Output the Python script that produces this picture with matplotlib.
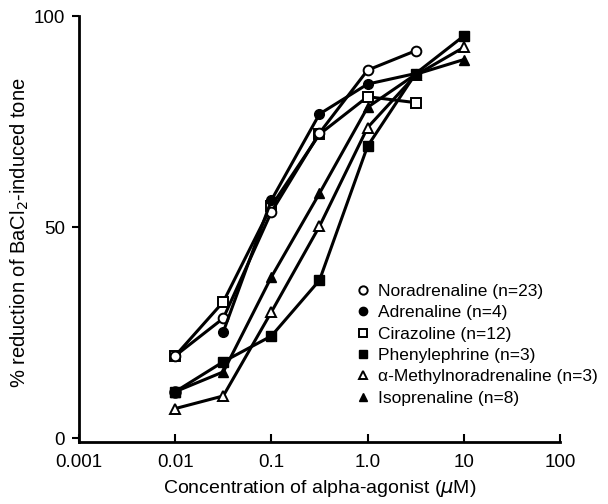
import matplotlib.pyplot as plt
from matplotlib.lines import Line2D

plt.rcParams['font.family'] = ['Liberation Sans', 'DejaVu Sans']

# concentrations (uM), half-log steps
conc = [0.01, 0.0316, 0.1, 0.316, 1.0, 3.16, 10.0]

noradrenaline = [19.5, 28.4, 53.6, 72.3, 87.2, 91.8]
adrenaline = [11.0, 25.2, 56.4, 76.8, 83.9, 86.4]
cirazoline = [19.5, 32.3, 55.0, 72.0, 80.9, 79.5]
phenylephrine = [11.0, 18.1, 24.2, 37.4, 69.2, 86.4, 95.3]
methylnor = [7.0, 10.0, 29.9, 50.2, 73.6, 86.0, 92.6]
isoprenaline = [11.0, 15.7, 38.2, 58.0, 78.4, 86.2, 89.7]

labels = ['Noradrenaline (n=23)', 'Adrenaline (n=4)', 'Cirazoline (n=12)',
          'Phenylephrine (n=3)', '\u03b1-Methylnoradrenaline (n=3)',
          'Isoprenaline (n=8)']

fig = plt.figure(figsize=(6.08, 5.04), dpi=100)
ax = fig.add_axes([0.13, 0.124, 0.791, 0.844])

lw = 2.2
ms = 7
open_kw = dict(markerfacecolor='white', markeredgecolor='black', markeredgewidth=1.4)
fill_kw = dict(markerfacecolor='black', markeredgecolor='black')

ax.plot(conc[:6], cirazoline, color='black', lw=lw, marker='s', ms=ms, **open_kw)
ax.plot(conc[:6], noradrenaline, color='black', lw=lw, marker='o', ms=ms, **open_kw)
# adrenaline: 0.01 point stands alone, line from 0.03 on
ax.plot(conc[1:6], adrenaline[1:], color='black', lw=lw, marker='o', ms=ms, **fill_kw)
ax.plot(conc[:1], adrenaline[:1], ls='none', marker='o', ms=ms + 1, **fill_kw)
ax.plot(conc, methylnor, color='black', lw=lw, marker='^', ms=ms, **open_kw)
ax.plot(conc, isoprenaline, color='black', lw=lw, marker='^', ms=ms, **fill_kw)
ax.plot(conc, phenylephrine, color='black', lw=lw, marker='s', ms=ms, **fill_kw)

ax.set_xscale('log')
ax.set_xlim(0.001, 100)
ax.set_ylim(-0.8, 100)
ax.set_xticks([0.001, 0.01, 0.1, 1, 10, 100])
ax.set_xticklabels(['0.001', '0.01', '0.1', '1.0', '10', '100'])
ax.minorticks_off()
ax.set_yticks([0, 50, 100])

for s in ['top', 'right']:
    ax.spines[s].set_visible(False)
for s in ['left', 'bottom']:
    ax.spines[s].set_linewidth(2)
ax.tick_params(axis='x', direction='in', length=6, width=1.5, pad=9, labelsize=13.5)
ax.tick_params(axis='y', direction='out', length=5, width=1.5, pad=5, labelsize=13.5)

ax.set_xlabel('Concentration of alpha-agonist ($\\mu$M)', fontsize=14, labelpad=5)
ax.set_ylabel('% reduction of BaCl$_2$-induced tone', fontsize=14.5)
ax.yaxis.set_label_coords(-0.1, 0.49)

handles = [
    Line2D([], [], ls='none', marker='o', ms=6, **open_kw),
    Line2D([], [], ls='none', marker='o', ms=6, **fill_kw),
    Line2D([], [], ls='none', marker='s', ms=6, **open_kw),
    Line2D([], [], ls='none', marker='s', ms=6, **fill_kw),
    Line2D([], [], ls='none', marker='^', ms=6, **open_kw),
    Line2D([], [], ls='none', marker='^', ms=6, **fill_kw),
]
fig.legend(handles, labels, loc='upper left', bbox_to_anchor=(347 / 608, 1 - 275 / 504),
           frameon=False, fontsize=12.5, handlelength=0.8, handletextpad=0.5,
           labelspacing=0.36, borderpad=0)

fig.savefig('out.png', dpi=100)
